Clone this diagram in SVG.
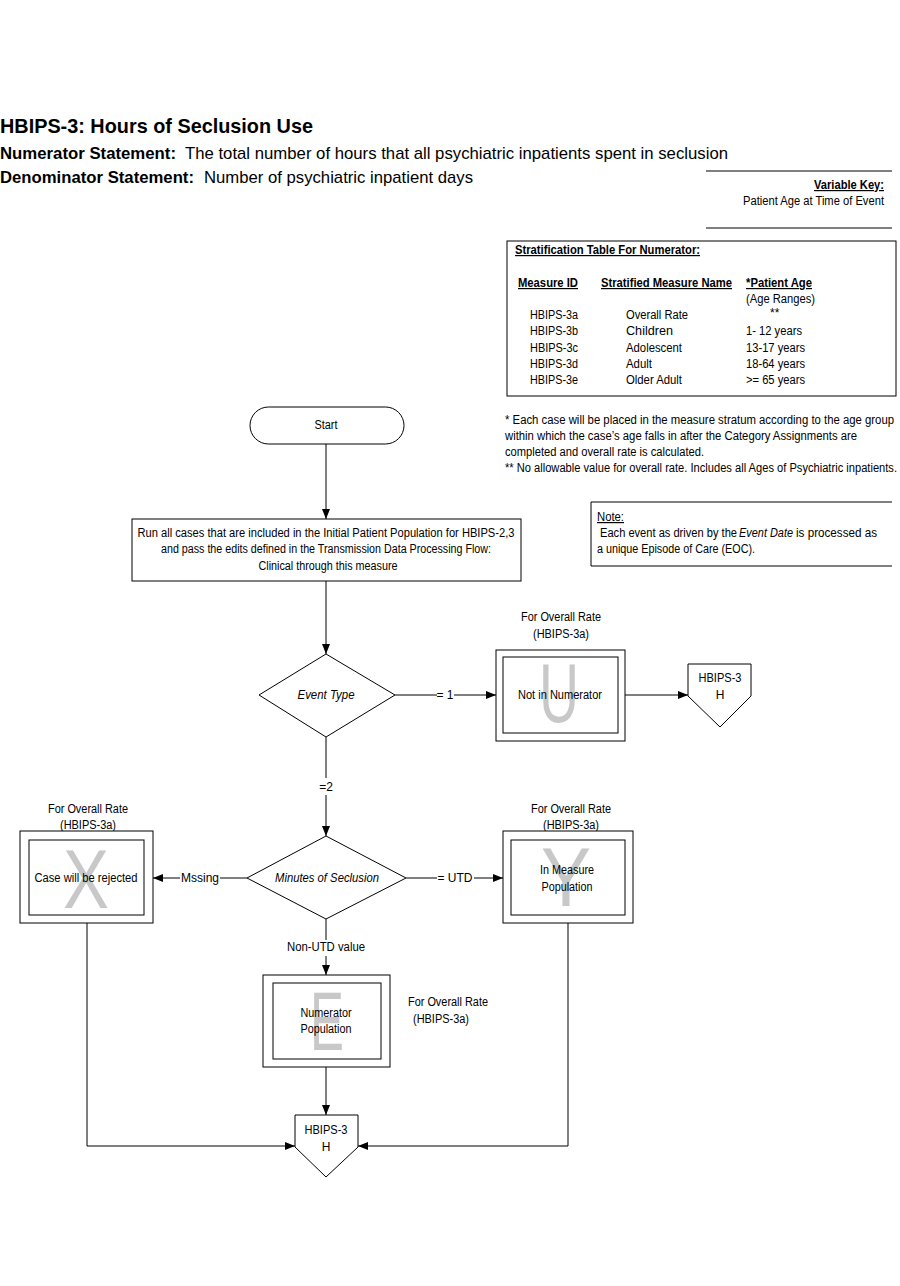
<svg xmlns="http://www.w3.org/2000/svg" width="900" height="1286" viewBox="0 0 900 1286">
<style>
text{font-family:"Liberation Sans",Arial,sans-serif;font-size:12px;fill:#000}
.c{text-anchor:middle}
.b{font-weight:bold}
.u{text-decoration:underline}
.i{font-style:italic}
.h{font-size:17px}
.wm{font-size:84px;fill:#c8c8c8;text-anchor:middle}
.s{fill:#fff;stroke:#000;stroke-width:1}
.ln{fill:none;stroke:#000;stroke-width:1}
</style>
<defs>
<marker id="ah" markerWidth="10" markerHeight="8" refX="10" refY="4" orient="auto" markerUnits="userSpaceOnUse">
<path d="M0,0 L10,4 L0,8 z" fill="#000"/>
</marker>
</defs>
<rect width="900" height="1286" fill="#fff"/>

<g id="header">
<text x="0" y="133" class="b" style="font-size:21px" textLength="313" lengthAdjust="spacingAndGlyphs">HBIPS-3:  Hours of Seclusion Use</text>
<text x="0" y="159" class="b h" textLength="176" lengthAdjust="spacingAndGlyphs">Numerator Statement:</text>
<text x="185" y="159" class="h" textLength="543" lengthAdjust="spacingAndGlyphs">The total number of hours that all psychiatric inpatients spent in seclusion</text>
<text x="0" y="183" class="b h" textLength="194" lengthAdjust="spacingAndGlyphs">Denominator Statement:</text>
<text x="204" y="183" class="h" textLength="269" lengthAdjust="spacingAndGlyphs">Number of psychiatric inpatient days</text>
</g>

<g id="variable-key">
<line x1="706" y1="171" x2="892" y2="171" class="ln"/>
<text x="814" y="189" class="b u" textLength="70" lengthAdjust="spacingAndGlyphs">Variable Key:</text>
<text x="743" y="205" textLength="141" lengthAdjust="spacingAndGlyphs">Patient Age at Time of Event</text>
<line x1="706" y1="228" x2="892" y2="228" class="ln"/>
</g>

<g id="strat-table">
<rect x="507" y="241" width="389" height="155" class="s"/>
<text x="515" y="254" class="b u" textLength="185" lengthAdjust="spacingAndGlyphs">Stratification Table For Numerator:</text>
<text x="518" y="287" class="b u" textLength="60" lengthAdjust="spacingAndGlyphs">Measure ID</text>
<text x="601" y="287" class="b u" textLength="131" lengthAdjust="spacingAndGlyphs">Stratified Measure Name</text>
<text x="746" y="287" class="b u" textLength="66" lengthAdjust="spacingAndGlyphs">*Patient Age</text>
<text x="746" y="303" textLength="69" lengthAdjust="spacingAndGlyphs">(Age Ranges)</text>
<text x="530" y="319" textLength="48" lengthAdjust="spacingAndGlyphs">HBIPS-3a</text>
<text x="626" y="319" textLength="62" lengthAdjust="spacingAndGlyphs">Overall Rate</text>
<text x="770" y="317">**</text>
<text x="530" y="335" textLength="48" lengthAdjust="spacingAndGlyphs">HBIPS-3b</text>
<text x="626" y="335" textLength="47" lengthAdjust="spacingAndGlyphs">Children</text>
<text x="746" y="335" textLength="56" lengthAdjust="spacingAndGlyphs">1- 12 years</text>
<text x="530" y="352" textLength="48" lengthAdjust="spacingAndGlyphs">HBIPS-3c</text>
<text x="626" y="352" textLength="56" lengthAdjust="spacingAndGlyphs">Adolescent</text>
<text x="746" y="352" textLength="59" lengthAdjust="spacingAndGlyphs">13-17 years</text>
<text x="530" y="368" textLength="48" lengthAdjust="spacingAndGlyphs">HBIPS-3d</text>
<text x="626" y="368" textLength="26" lengthAdjust="spacingAndGlyphs">Adult</text>
<text x="746" y="368" textLength="59" lengthAdjust="spacingAndGlyphs">18-64 years</text>
<text x="530" y="384" textLength="48" lengthAdjust="spacingAndGlyphs">HBIPS-3e</text>
<text x="626" y="384" textLength="56" lengthAdjust="spacingAndGlyphs">Older Adult</text>
<text x="746" y="384" textLength="59" lengthAdjust="spacingAndGlyphs">&gt;= 65 years</text>
</g>

<g id="footnotes">
<text x="505" y="424" textLength="389" lengthAdjust="spacingAndGlyphs">* Each case will be placed in the measure stratum  according to the  age group</text>
<text x="505" y="440" textLength="352" lengthAdjust="spacingAndGlyphs">within which the case’s age falls in after the Category  Assignments are</text>
<text x="505" y="456" textLength="199" lengthAdjust="spacingAndGlyphs">completed and overall rate is calculated.</text>
<text x="505" y="472" textLength="392" lengthAdjust="spacingAndGlyphs">** No allowable value for overall rate. Includes all Ages of Psychiatric inpatients.</text>
</g>

<g id="note">
<path d="M892,502 L591,502 L591,566 L892,566" class="ln"/>
<text x="597" y="521" class="u" textLength="27" lengthAdjust="spacingAndGlyphs">Note:</text>
<text x="600" y="537" textLength="137" lengthAdjust="spacingAndGlyphs">Each event as driven by the</text>
<text x="739" y="537" class="i" textLength="54" lengthAdjust="spacingAndGlyphs">Event Date</text>
<text x="796" y="537" textLength="81" lengthAdjust="spacingAndGlyphs">is processed as</text>
<text x="597" y="553" textLength="158" lengthAdjust="spacingAndGlyphs">a unique Episode of Care (EOC).</text>
</g>

<g id="start">
<rect x="250" y="407" width="154" height="37" rx="18.5" ry="18.5" class="s"/>
<text x="326" y="429" class="c" textLength="23" lengthAdjust="spacingAndGlyphs">Start</text>
</g>

<g id="run-all">
<rect x="132" y="519" width="389" height="62" class="s"/>
<text x="326" y="537" class="c" textLength="377" lengthAdjust="spacingAndGlyphs">Run all cases that are included in the Initial Patient Population for HBIPS-2,3</text>
<text x="326" y="553" class="c" textLength="330" lengthAdjust="spacingAndGlyphs">and pass the edits defined in the Transmission Data Processing Flow:</text>
<text x="328" y="570" class="c" textLength="139" lengthAdjust="spacingAndGlyphs">Clinical through this measure</text>
</g>

<g id="event-type">
<polygon points="326,654 395,695 326,737 259,695" class="s"/>
<text x="326" y="699" class="c i" textLength="57" lengthAdjust="spacingAndGlyphs">Event Type</text>
</g>

<g id="not-in-numerator">
<text x="561" y="621" class="c" textLength="80" lengthAdjust="spacingAndGlyphs">For Overall Rate</text>
<text x="561" y="638" class="c" textLength="56" lengthAdjust="spacingAndGlyphs">(HBIPS-3a)</text>
<rect x="496" y="650" width="129" height="91" class="s"/>
<rect x="503" y="657" width="115" height="76" class="s"/>
<text x="559" y="722" class="wm" textLength="40" lengthAdjust="spacingAndGlyphs">U</text>
<text x="560" y="699" class="c" textLength="84" lengthAdjust="spacingAndGlyphs">Not in Numerator</text>
</g>

<g id="offpage-1">
<polygon points="688,664 751,664 751,696 720,727 688,696" class="s"/>
<text x="720" y="682" class="c" textLength="43" lengthAdjust="spacingAndGlyphs">HBIPS-3</text>
<text x="720" y="699" class="c">H</text>
</g>

<g id="minutes">
<polygon points="326,836 406,878 326,919 247,878" class="s"/>
<text x="327" y="882" class="c i" textLength="104" lengthAdjust="spacingAndGlyphs">Minutes of Seclusion</text>
</g>

<g id="rejected">
<text x="88" y="813" class="c" textLength="80" lengthAdjust="spacingAndGlyphs">For Overall Rate</text>
<text x="88" y="829" class="c" textLength="56" lengthAdjust="spacingAndGlyphs">(HBIPS-3a)</text>
<rect x="20" y="831" width="133" height="92" class="s"/>
<rect x="29" y="840" width="115" height="75" class="s"/>
<text x="86" y="908" class="wm" textLength="46" lengthAdjust="spacingAndGlyphs">X</text>
<text x="86" y="882" class="c" textLength="103" lengthAdjust="spacingAndGlyphs">Case will be rejected</text>
</g>

<g id="in-measure">
<text x="571" y="813" class="c" textLength="80" lengthAdjust="spacingAndGlyphs">For Overall Rate</text>
<text x="571" y="829" class="c" textLength="56" lengthAdjust="spacingAndGlyphs">(HBIPS-3a)</text>
<rect x="503" y="831" width="130" height="92" class="s"/>
<rect x="511" y="840" width="114" height="75" class="s"/>
<text x="566" y="906" class="wm" textLength="50" lengthAdjust="spacingAndGlyphs">Y</text>
<text x="567" y="874" class="c" textLength="54" lengthAdjust="spacingAndGlyphs">In Measure</text>
<text x="567" y="891" class="c" textLength="51" lengthAdjust="spacingAndGlyphs">Population</text>
</g>

<g id="numerator-pop">
<rect x="263" y="975" width="127" height="92" class="s"/>
<rect x="273" y="983" width="108" height="76" class="s"/>
<text x="327" y="1050" class="wm" textLength="34" lengthAdjust="spacingAndGlyphs">E</text>
<text x="326" y="1017" class="c" textLength="51" lengthAdjust="spacingAndGlyphs">Numerator</text>
<text x="326" y="1033" class="c" textLength="51" lengthAdjust="spacingAndGlyphs">Population</text>
<text x="448" y="1006" class="c" textLength="80" lengthAdjust="spacingAndGlyphs">For Overall Rate</text>
<text x="441" y="1023" class="c" textLength="56" lengthAdjust="spacingAndGlyphs">(HBIPS-3a)</text>
</g>

<g id="offpage-2">
<polygon points="295,1115 358,1115 358,1147 326,1177 295,1147" class="s"/>
<text x="326" y="1134" class="c" textLength="43" lengthAdjust="spacingAndGlyphs">HBIPS-3</text>
<text x="326" y="1151" class="c">H</text>
</g>

<g id="connectors">
<line x1="326" y1="444" x2="326" y2="519" class="ln" marker-end="url(#ah)"/>
<line x1="326" y1="581" x2="326" y2="654" class="ln" marker-end="url(#ah)"/>
<line x1="395" y1="695" x2="437" y2="695" class="ln"/>
<line x1="454" y1="695" x2="496" y2="695" class="ln" marker-end="url(#ah)"/>
<text x="445" y="699" class="c">= 1</text>
<line x1="625" y1="695" x2="688" y2="695" class="ln" marker-end="url(#ah)"/>
<line x1="326" y1="737" x2="326" y2="778" class="ln"/>
<line x1="326" y1="795" x2="326" y2="836" class="ln" marker-end="url(#ah)"/>
<text x="326" y="791" class="c">=2</text>
<line x1="247" y1="878" x2="220" y2="878" class="ln"/>
<line x1="180" y1="878" x2="153" y2="878" class="ln" marker-end="url(#ah)"/>
<text x="200" y="882" class="c" textLength="38" lengthAdjust="spacingAndGlyphs">Mssing</text>
<line x1="406" y1="878" x2="437" y2="878" class="ln"/>
<line x1="474" y1="878" x2="503" y2="878" class="ln" marker-end="url(#ah)"/>
<text x="455" y="882" class="c" textLength="35" lengthAdjust="spacingAndGlyphs">= UTD</text>
<line x1="326" y1="919" x2="326" y2="940" class="ln"/>
<line x1="326" y1="956" x2="326" y2="975" class="ln" marker-end="url(#ah)"/>
<text x="326" y="951" class="c" textLength="78" lengthAdjust="spacingAndGlyphs">Non-UTD value</text>
<line x1="326" y1="1067" x2="326" y2="1115" class="ln" marker-end="url(#ah)"/>
<polyline points="87,923 87,1146 295,1146" class="ln" marker-end="url(#ah)"/>
<polyline points="568,923 568,1146 358,1146" class="ln" marker-end="url(#ah)"/>
</g>
</svg>
